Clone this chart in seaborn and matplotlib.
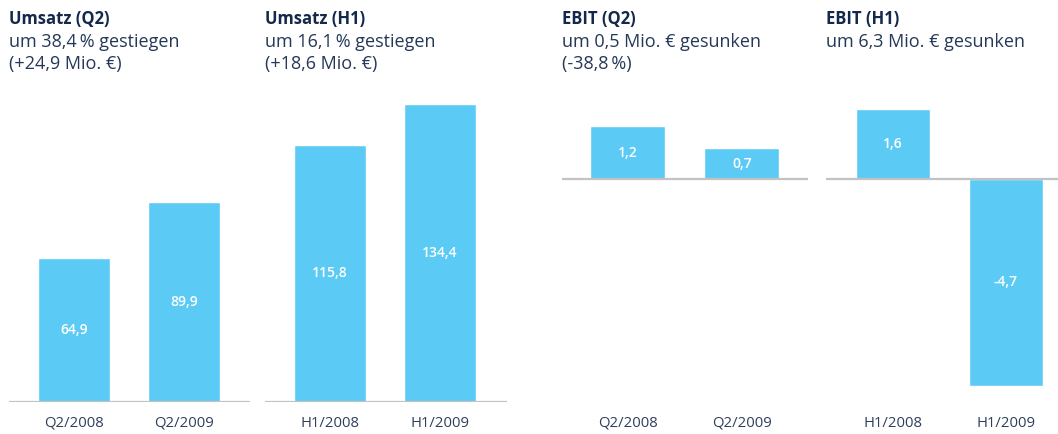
import matplotlib
matplotlib.use("Agg")
import matplotlib.pyplot as plt
import seaborn as sns

# data
umsatz_q2_cats = ["Q2/2008", "Q2/2009"]
umsatz_q2_vals = [64.9, 89.9]
umsatz_h1_cats = ["H1/2008", "H1/2009"]
umsatz_h1_vals = [115.8, 134.4]
ebit_q2_cats = ["Q2/2008", "Q2/2009"]
ebit_q2_vals = [1.2, 0.7]
ebit_h1_cats = ["H1/2008", "H1/2009"]
ebit_h1_vals = [1.6, -4.7]

titles = ["Umsatz (Q2)", "Umsatz (H1)", "EBIT (Q2)", "EBIT (H1)"]
subtitles = [
    "um 38,4\u2009% gestiegen\n(+24,9 Mio. \u20ac)",
    "um 16,1\u2009% gestiegen\n(+18,6 Mio. \u20ac)",
    "um 0,5 Mio. \u20ac gesunken\n(-38,8\u2009%)",
    "um 6,3 Mio. \u20ac gesunken",
]

sns.set_style("white")
plt.rcParams["font.family"] = ["Open Sans", "DejaVu Sans"]

bar_color = "#5bcbf5"
navy = "#14284b"
sub_color = "#253858"
tick_color = "#2e3f5c"
W, H = 1058, 434

fig = plt.figure(figsize=(W / 100, H / 100), dpi=100, facecolor="white")


def px_axes(left, right, top, bottom):
    return fig.add_axes([left / W, 1 - bottom / H, (right - left) / W, (bottom - top) / H])


# (left px, right px, xlim, ylim, cats, vals)
panels = [
    (9, 250, (-0.59, 1.60), (0, 136.0), umsatz_q2_cats, umsatz_q2_vals),
    (265, 507, (-0.59, 1.61), (0, 136.0), umsatz_h1_cats, umsatz_h1_vals),
    (562, 808, (-0.575, 1.58), (-5.07, 1.795), ebit_q2_cats, ebit_q2_vals),
    (826, 1058, (-0.59, 1.46), (-5.07, 1.795), ebit_h1_cats, ebit_h1_vals),
]

for i, (l, r, xl, yl, cats, vals) in enumerate(panels):
    ax = px_axes(l, r, 100, 402)
    sns.barplot(x=cats, y=vals, color=bar_color, saturation=1, width=0.655, ax=ax)
    ax.axhline(0, color="#c2c2c2", lw=1.6, zorder=5)
    ax.set_xlim(*xl)
    ax.set_ylim(*yl)
    for j, v in enumerate(vals):
        ax.text(j, v / 2, f"{v:.1f}".replace(".", ","), ha="center", va="center",
                color="white", fontsize=10, fontweight="semibold", zorder=6)
    for s in ax.spines.values():
        s.set_visible(False)
    ax.set_yticks([])
    ax.tick_params(axis="x", length=0, pad=10, labelsize=10.7, labelcolor=tick_color)
    ax.set_xlabel("")
    ax.set_ylabel("")
    ax.patch.set_alpha(0)

    fig.text(l / W, 1 - 10 / H, titles[i], ha="left", va="top", fontsize=12,
             fontweight="bold", color=navy)
    fig.text(l / W, 1 - 33 / H, subtitles[i], ha="left", va="top", fontsize=13,
             color=sub_color, linespacing=1.25)

fig.savefig("out.png", dpi=100, facecolor="white")
